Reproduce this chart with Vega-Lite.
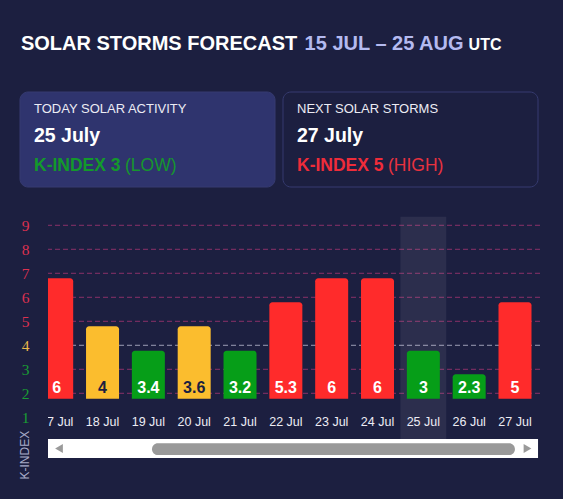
{
  "$schema": "https://vega.github.io/schema/vega-lite/v6.json",
  "background": "#1c1f40",
  "padding": {"left": 18, "top": 0, "right": 23, "bottom": 20},
  "spacing": 0,
  "config": {"view": {"stroke": null}, "font": "Liberation Sans"},
  "resolve": {"scale": {"color": "independent"}},
  "vconcat": [
    {
      "width": 492,
      "height": 91,
      "data": {
        "values": [
          {"text": "SOLAR STORMS FORECAST", "part": "name"},
          {"text": "15 JUL – 25 AUG", "part": "range"},
          {"text": "UTC", "part": "zone"}
        ]
      },
      "layer": [
        {
          "transform": [{"filter": "datum.part === 'name'"}],
          "mark": {"type": "text", "align": "left", "baseline": "alphabetic", "fontSize": 20, "fontWeight": "bold", "color": "#ffffff"},
          "encoding": {
            "x": {"datum": -27.1, "type": "quantitative", "scale": {"domain": [0, 492], "nice": false, "zero": false}, "axis": null},
            "y": {"datum": 50, "type": "quantitative", "scale": {"domain": [91, 0], "nice": false, "zero": false}, "axis": null},
            "text": {"field": "text"}
          }
        },
        {
          "transform": [{"filter": "datum.part === 'range'"}],
          "mark": {"type": "text", "align": "left", "baseline": "alphabetic", "fontSize": 20, "fontWeight": "bold", "color": "#b4baf0"},
          "encoding": {
            "x": {"datum": 256.6, "type": "quantitative"},
            "y": {"datum": 50, "type": "quantitative"},
            "text": {"field": "text"}
          }
        },
        {
          "transform": [{"filter": "datum.part === 'zone'"}],
          "mark": {"type": "text", "align": "left", "baseline": "alphabetic", "fontSize": 16, "fontWeight": "bold", "color": "#ffffff"},
          "encoding": {
            "x": {"datum": 420.6, "type": "quantitative"},
            "y": {"datum": 50, "type": "quantitative"},
            "text": {"field": "text"}
          }
        }
      ]
    },
    {
      "width": 492,
      "height": 95,
      "data": {
        "values": [
          {"card": "today", "heading": "TODAY SOLAR ACTIVITY", "date": "25 July", "kindex": "K-INDEX 3", "rating": "(LOW)", "status": "low"},
          {"card": "next", "heading": "NEXT SOLAR STORMS", "date": "27 July", "kindex": "K-INDEX 5", "rating": "(HIGH)", "status": "high"}
        ]
      },
      "layer": [
        {
          "mark": {"type": "rect", "cornerRadius": 8, "stroke": "#363b70", "strokeWidth": 1},
          "encoding": {
            "x": {"field": "card", "type": "nominal", "scale": {"type": "band", "domain": ["today", "next"], "range": [-28, 490], "paddingInner": 0.0304, "paddingOuter": 0}, "axis": null},
            "fill": {"condition": {"test": "datum.card === 'today'", "value": "#2f346e"}, "value": "#1c1f40"}
          }
        },
        {
          "mark": {"type": "text", "align": "left", "baseline": "alphabetic", "dx": 14, "fontSize": 13, "color": "#ececf4"},
          "encoding": {
            "x": {"field": "card", "type": "nominal", "bandPosition": 0, "axis": null},
            "y": {"datum": "heading", "type": "nominal", "scale": {"type": "point", "domain": ["heading", "date", "kindex"], "range": [21.3, 79.3], "padding": 0}, "axis": null},
            "text": {"field": "heading"}
          }
        },
        {
          "mark": {"type": "text", "align": "left", "baseline": "alphabetic", "dx": 14, "fontSize": 19.5, "fontWeight": "bold", "color": "#ffffff"},
          "encoding": {
            "x": {"field": "card", "type": "nominal", "bandPosition": 0, "axis": null},
            "y": {"datum": "date", "type": "nominal", "axis": null},
            "text": {"field": "date"}
          }
        },
        {
          "mark": {"type": "text", "align": "left", "baseline": "alphabetic", "dx": 14, "fontSize": 17.5, "fontWeight": "bold"},
          "encoding": {
            "x": {"field": "card", "type": "nominal", "bandPosition": 0, "axis": null},
            "y": {"datum": "kindex", "type": "nominal", "axis": null},
            "text": {"field": "kindex"},
            "color": {"condition": {"test": "datum.status === 'low'", "value": "#13992b"}, "value": "#ef2c3a"}
          }
        },
        {
          "mark": {"type": "text", "align": "left", "baseline": "alphabetic", "dx": 105, "fontSize": 17.5},
          "encoding": {
            "x": {"field": "card", "type": "nominal", "bandPosition": 0, "axis": null},
            "y": {"datum": "kindex", "type": "nominal", "axis": null},
            "text": {"field": "rating"},
            "color": {"condition": {"test": "datum.status === 'low'", "value": "#16962e"}, "value": "#e8323f"}
          }
        }
      ]
    },
    {
      "width": 492,
      "height": 270,
      "data": {
        "values": [
          {"date": "17 Jul", "value": 6, "bar": 6.79, "level": "high", "today": false},
          {"date": "18 Jul", "value": 4, "bar": 4.79, "level": "moderate", "today": false},
          {"date": "19 Jul", "value": 3.4, "bar": 3.77, "level": "low", "today": false},
          {"date": "20 Jul", "value": 3.6, "bar": 4.79, "level": "moderate", "today": false},
          {"date": "21 Jul", "value": 3.2, "bar": 3.77, "level": "low", "today": false},
          {"date": "22 Jul", "value": 5.3, "bar": 5.79, "level": "high", "today": false},
          {"date": "23 Jul", "value": 6, "bar": 6.79, "level": "high", "today": false},
          {"date": "24 Jul", "value": 6, "bar": 6.79, "level": "high", "today": false},
          {"date": "25 Jul", "value": 3, "bar": 3.77, "level": "low", "today": true},
          {"date": "26 Jul", "value": 2.3, "bar": 2.79, "level": "low", "today": false},
          {"date": "27 Jul", "value": 5, "bar": 5.79, "level": "high", "today": false}
        ]
      },
      "layer": [
        {
          "data": {"values": [{"k": 2}, {"k": 3}, {"k": 4}, {"k": 5}, {"k": 6}, {"k": 7}, {"k": 8}, {"k": 9}]},
          "mark": {"type": "rule", "strokeDash": [5, 3], "strokeWidth": 1},
          "encoding": {
            "y": {"field": "k", "type": "quantitative"},
            "color": {"condition": {"test": "datum.k == 4", "value": "#9c9db4"}, "value": "#8a3168"}
          }
        },
        {
          "layer": [
            {
              "transform": [{"filter": "datum.today === true"}],
              "mark": {"type": "bar", "width": {"band": 1.389}, "fill": "#ffffff", "fillOpacity": 0.07},
              "encoding": {
                "x": {"field": "date", "type": "nominal", "axis": null},
                "y": {"datum": 9.358, "type": "quantitative"},
                "y2": {"datum": -0.696}
              }
            },
            {
              "mark": {"type": "bar", "clip": true, "cornerRadiusTopLeft": 3, "cornerRadiusTopRight": 3},
              "encoding": {
                "x": {
                  "field": "date",
                  "type": "nominal",
                  "sort": null,
                  "scale": {
                    "domain": ["17 Jul", "18 Jul", "19 Jul", "20 Jul", "21 Jul", "22 Jul", "23 Jul", "24 Jul", "25 Jul", "26 Jul", "27 Jul"],
                    "range": [-7.8, 483.5],
                    "paddingInner": 0.28,
                    "paddingOuter": 0
                  },
                  "axis": null
                },
                "y": {
                  "field": "bar",
                  "type": "quantitative",
                  "scale": {"domain": [-0.696, 10.554], "nice": false, "zero": false},
                  "axis": {
                    "title": "K-INDEX",
                    "titleColor": "#a8abc8",
                    "titleFont": "Liberation Sans",
                    "titleFontSize": 12,
                    "titleFontWeight": "normal",
                    "titleAngle": -90,
                    "titleAlign": "left",
                    "titleBaseline": "middle",
                    "titleX": -24,
                    "titleY": 291,
                    "values": [1, 2, 3, 4, 5, 6, 7, 8, 9],
                    "tickCount": 9,
                    "domain": false,
                    "ticks": false,
                    "grid": false,
                    "labelPadding": 19,
                    "labelFont": "Liberation Serif",
                    "labelFontSize": 15.5,
                    "labelOverlap": false,
                    "labelColor": {
                      "condition": [
                        {"test": "datum.value <= 3", "value": "#1a9c34"},
                        {"test": "datum.value == 4", "value": "#eab94a"}
                      ],
                      "value": "#dc3150"
                    }
                  }
                },
                "y2": {"datum": 1.775},
                "color": {
                  "field": "level",
                  "type": "nominal",
                  "scale": {"domain": ["high", "moderate", "low"], "range": ["#ff2b2b", "#fbbd2e", "#069e18"]},
                  "legend": null
                }
              }
            },
            {
              "mark": {"type": "text", "clip": true, "baseline": "alphabetic", "fontSize": 16, "fontWeight": "bold"},
              "encoding": {
                "x": {"field": "date", "type": "nominal", "axis": null},
                "y": {"datum": 2.0, "type": "quantitative"},
                "text": {"field": "value", "type": "quantitative"},
                "color": {"condition": {"test": "datum.level === 'moderate'", "value": "#1c1f40"}, "value": "#ffffff"}
              }
            },
            {
              "mark": {"type": "text", "clip": true, "baseline": "alphabetic", "fontSize": 12.5, "color": "#ececf4"},
              "encoding": {
                "x": {"field": "date", "type": "nominal", "axis": null},
                "y": {"datum": 0.64, "type": "quantitative"},
                "text": {"field": "date"}
              }
            }
          ]
        },
        {
          "data": {"values": [{"control": "scrollbar"}]},
          "layer": [
            {
              "mark": {"type": "rect", "fill": "#ffffff"},
              "encoding": {
                "x": {"datum": 0, "type": "quantitative", "scale": {"domain": [0, 1], "nice": false, "zero": false}, "axis": null},
                "x2": {"datum": 0.996},
                "y": {"datum": 0.096, "type": "quantitative"},
                "y2": {"datum": -0.696}
              }
            },
            {
              "mark": {"type": "rect", "fill": "#999999", "cornerRadius": 6},
              "encoding": {
                "x": {"datum": 0.2114, "type": "quantitative"},
                "x2": {"datum": 0.949},
                "y": {"datum": -0.084, "type": "quantitative"},
                "y2": {"datum": -0.571}
              }
            },
            {
              "mark": {"type": "point", "shape": "triangle-left", "filled": true, "size": 80, "fill": "#9a9a9a", "opacity": 1},
              "encoding": {
                "x": {"datum": 0.0224, "type": "quantitative"},
                "y": {"datum": -0.3, "type": "quantitative"}
              }
            },
            {
              "mark": {"type": "point", "shape": "triangle-right", "filled": true, "size": 80, "fill": "#9a9a9a", "opacity": 1},
              "encoding": {
                "x": {"datum": 0.9746, "type": "quantitative"},
                "y": {"datum": -0.3, "type": "quantitative"}
              }
            }
          ]
        }
      ],
      "resolve": {"scale": {"x": "independent"}}
    }
  ]
}
